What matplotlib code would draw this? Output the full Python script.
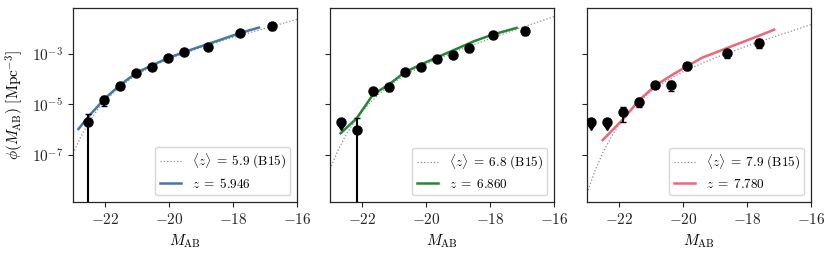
import numpy as np
import matplotlib
matplotlib.use('Agg')
import matplotlib.pyplot as plt
from matplotlib.ticker import FixedLocator, FuncFormatter, NullLocator

plt.rcParams['mathtext.fontset'] = 'cm'
plt.rcParams['font.family'] = ['DejaVu Serif']

# ===== B15 data points (Bouwens+2015) =====
m_z6 = [-22.52, -22.02, -21.52, -21.02, -20.52, -20.02, -19.52, -18.77, -17.77, -16.77]
phi_z6 = [0.000002, 0.000015, 0.000053, 0.000176, 0.000320, 0.000698, 0.001246, 0.001900, 0.006680, 0.013640]
err_z6 = [0.000002, 0.000006, 0.000012, 0.000025, 0.000041, 0.000083, 0.000137, 0.000320, 0.001380, 0.004200]
lim_z6 = [False] * 10

m_z7 = [-22.66, -22.16, -21.66, -21.16, -20.66, -20.16, -19.66, -19.16, -18.66, -17.91, -16.91]
phi_z7 = [0.000002, 0.000001, 0.000033, 0.000048, 0.000193, 0.000309, 0.000654, 0.000907, 0.001717, 0.005840, 0.008500]
err_z7 = [0.0000005, 0.000002, 0.000009, 0.000015, 0.000034, 0.000061, 0.000100, 0.000177, 0.000478, 0.001460, 0.002940]
lim_z7 = [True] + [False] * 10

m_z8 = [-22.87, -22.37, -21.87, -21.37, -20.87, -20.37, -19.87, -18.62, -17.62]
phi_z8 = [0.000002, 0.000002, 0.000005, 0.000013, 0.000058, 0.000060, 0.000331, 0.001060, 0.002870]
err_z8 = [0.0000005, 0.0000005, 0.000003, 0.000005, 0.000015, 0.000026, 0.000104, 0.000340, 0.001100]
lim_z8 = [True, True] + [False] * 7

# ===== B15 Schechter curves (log10 phi) =====
m_ref = [-23, -22.75, -22.5, -22.25, -22, -21.5, -21, -20.5, -20, -19, -18, -17, -16]
logphi_ref_z6 = [-6.95, -6.27, -5.71, -5.24, -4.86, -4.26, -3.82, -3.47, -3.19, -2.74, -2.34, -1.98, -1.62]
logphi_ref_z7 = [-7.57, -6.82, -6.21, -5.71, -5.28, -4.62, -4.12, -3.73, -3.40, -2.86, -2.39, -1.94, -1.51]
logphi_ref_z8 = [-8.53, -7.64, -6.91, -6.31, -5.81, -5.04, -4.48, -4.05, -3.70, -3.15, -2.68, -2.25, -1.83]

# ===== model curves (log10 phi) =====
m_mod_z6 = [-22.83, -22.5, -22.0, -21.5, -21.0, -20.5, -20.0, -19.5, -19.0, -18.5, -18.0, -17.5, -17.19]
logphi_mod_z6 = [-5.98, -5.46, -4.76, -4.20, -3.73, -3.43, -3.14, -2.91, -2.69, -2.48, -2.26, -2.06, -1.95]

m_mod_z7 = [-22.67, -22.17, -21.65, -21.18, -20.66, -20.13, -19.6, -19.0, -18.5, -17.9, -17.17]
logphi_mod_z7 = [-6.15, -5.56, -4.60, -4.23, -3.72, -3.40, -3.10, -2.77, -2.49, -2.22, -1.96]

m_mod_z8 = [-22.51, -21.85, -21.37, -20.84, -20.34, -19.84, -19.41, -18.6, -17.62, -17.15]
logphi_mod_z8 = [-6.42, -5.56, -4.83, -4.23, -3.83, -3.46, -3.15, -2.75, -2.27, -2.03]

ref_labels = [r'$\langle z\rangle\;=\;5.9\ \mathrm{(B15)}$',
              r'$\langle z\rangle\;=\;6.8\ \mathrm{(B15)}$',
              r'$\langle z\rangle\;=\;7.9\ \mathrm{(B15)}$']
mod_labels = [r'$z\;=\;5.946$', r'$z\;=\;6.860$', r'$z\;=\;7.780$']
colors = ['#4477AA', '#228833', '#EE6677']

panels = [
    (m_z6, phi_z6, err_z6, lim_z6, logphi_ref_z6, m_mod_z6, logphi_mod_z6),
    (m_z7, phi_z7, err_z7, lim_z7, logphi_ref_z7, m_mod_z7, logphi_mod_z7),
    (m_z8, phi_z8, err_z8, lim_z8, logphi_ref_z8, m_mod_z8, logphi_mod_z8),
]

fig = plt.figure(figsize=(8.31, 2.59), dpi=100)
lefts = [73 / 831, 330 / 831, 587 / 831]
axes = [fig.add_axes([l, 0.2201, 224 / 831, 0.748]) for l in lefts]

for i, (ax, p) in enumerate(zip(axes, panels)):
    m, phi, err, lim, lref, mm, lmod = p
    ax.set_yscale('log')
    ax.plot(m_ref, 10 ** np.array(lref), ls=':', color='0.55', lw=0.9, label=ref_labels[i])
    ax.plot(mm, 10 ** np.array(lmod), ls='-', color=colors[i], lw=1.8, label=mod_labels[i])
    ax.errorbar(m, phi, yerr=err, uplims=lim, fmt='o', color='black', ms=6.5,
                elinewidth=1.5, capsize=2.5, capthick=1.0, zorder=5)

    ax.set_xlim(-23, -16)
    ax.set_ylim(10 ** -8.88, 10 ** -1.18)
    ax.xaxis.set_major_locator(FixedLocator([-22, -20, -18, -16]))
    ax.xaxis.set_major_formatter(FuncFormatter(lambda v, pos: r'$%d$' % v))
    ax.yaxis.set_major_locator(FixedLocator([1e-7, 1e-5, 1e-3]))
    ax.yaxis.set_minor_locator(NullLocator())
    if i == 0:
        ax.yaxis.set_major_formatter(FuncFormatter(lambda v, pos: r'$10^{%d}$' % round(np.log10(v))))
        ax.set_ylabel(r'$\phi(M_{\rm AB})\ [{\rm Mpc}^{-3}]$', fontsize=11)
    else:
        ax.set_yticklabels([])
    ax.set_xlabel(r'$M_{\rm AB}$', fontsize=11)
    ax.tick_params(labelsize=11, direction='out', length=3.5, width=0.8, colors='0.15')
    for s in ax.spines.values():
        s.set_color('0.15')
        s.set_linewidth(0.9)
    ax.legend(loc='lower right', fontsize=9.5, handlelength=1.6, borderpad=0.35,
              labelspacing=0.45, framealpha=0.8)

fig.savefig('out.png', dpi=100)
